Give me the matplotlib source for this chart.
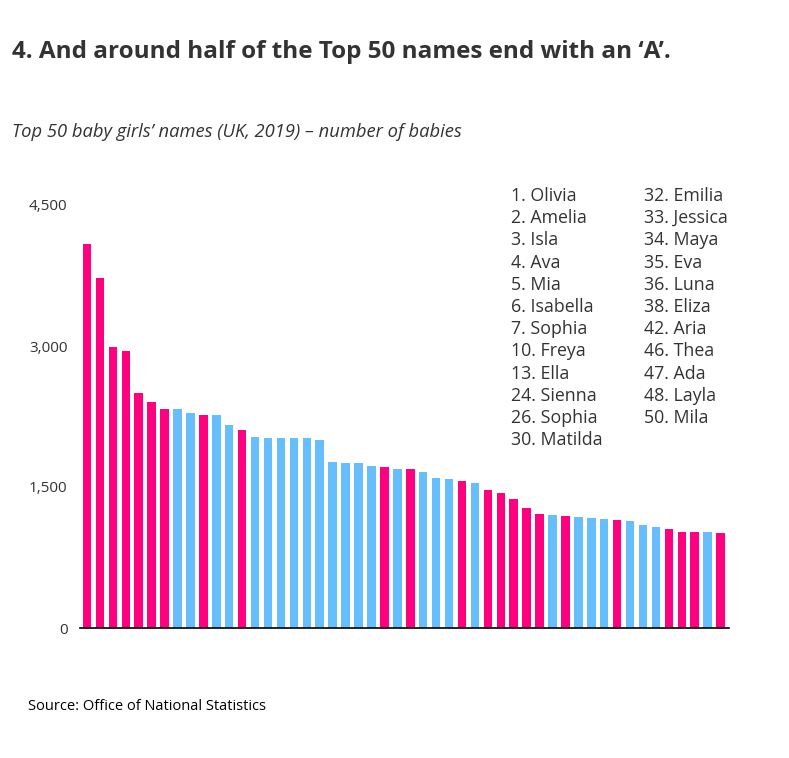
import matplotlib
matplotlib.use('Agg')
import matplotlib.pyplot as plt
import numpy as np

plt.rcParams['font.family'] = ['Open Sans', 'DejaVu Sans']

# Top 50 baby girls' names (UK, 2019) - number of babies
counts = [4085, 3723, 2989, 2947, 2500, 2404, 2330, 2330, 2287, 2266,
          2266, 2160, 2106, 2032, 2021, 2021, 2021, 2021, 2000, 1766,
          1755, 1755, 1723, 1713, 1691, 1691, 1660, 1596, 1585, 1564,
          1543, 1468, 1436, 1372, 1277, 1213, 1202, 1191, 1181, 1170,
          1160, 1149, 1138, 1096, 1074, 1053, 1021, 1021, 1021, 1011]

# ranks of names ending with an 'A'
ends_a = [1, 2, 3, 4, 5, 6, 7, 10, 13, 24, 26, 30,
          32, 33, 34, 35, 36, 38, 42, 46, 47, 48, 50]
names_col1 = ['1. Olivia', '2. Amelia', '3. Isla', '4. Ava', '5. Mia',
              '6. Isabella', '7. Sophia', '10. Freya', '13. Ella',
              '24. Sienna', '26. Sophia', '30. Matilda']
names_col2 = ['32. Emilia', '33. Jessica', '34. Maya', '35. Eva', '36. Luna',
              '38. Eliza', '42. Aria', '46. Thea', '47. Ada', '48. Layla',
              '50. Mila']

yticks = [0, 1500, 3000, 4500]

pink = '#FF007F'
blue = '#66BEFC'
dark = '#333333'

fig = plt.figure(figsize=(7.89, 7.58), dpi=100)
ax = fig.add_axes([80 / 789, 1 - 628 / 758, 649 / 789, (628 - 205) / 758])

x = np.arange(len(counts))
colors = [pink if (i + 1) in ends_a else blue for i in x]
ax.bar(x, counts, width=0.66, color=colors, linewidth=0)

ax.set_xlim(-0.54, 49.65)
ax.set_ylim(0, 4500)
ax.set_yticks(yticks)
ax.set_yticklabels([f'{v:,}' for v in yticks])
ax.set_xticks([])
ax.tick_params(axis='y', length=0, pad=9, labelsize=11, labelcolor=dark)

for s in ['top', 'right', 'left']:
    ax.spines[s].set_visible(False)
ax.spines['bottom'].set_linewidth(1.2)
ax.spines['bottom'].set_color('black')

# name list
for j, t in enumerate(names_col1):
    fig.text(511 / 789, 1 - (196 + j * 22.2) / 758, t, fontsize=12.8,
             color=dark, va='center', ha='left')
for j, t in enumerate(names_col2):
    fig.text(644 / 789, 1 - (196 + j * 22.2) / 758, t, fontsize=12.8,
             color=dark, va='center', ha='left')

fig.text(12 / 789, 1 - 52 / 758,
         '4. And around half of the Top 50 names end with an \u2018A\u2019.',
         fontsize=17.5, fontweight='bold', color=dark, va='center', ha='left')
fig.text(12 / 789, 1 - 132 / 758,
         'Top 50 baby girls\u2019 names (UK, 2019) \u2013 number of babies',
         fontsize=13.2, style='italic', color=dark, va='center', ha='left')
fig.text(28 / 789, 1 - 706 / 758, 'Source: Office of National Statistics',
         fontsize=10.5, color='black', va='center', ha='left')

plt.savefig('out.png', dpi=100)
